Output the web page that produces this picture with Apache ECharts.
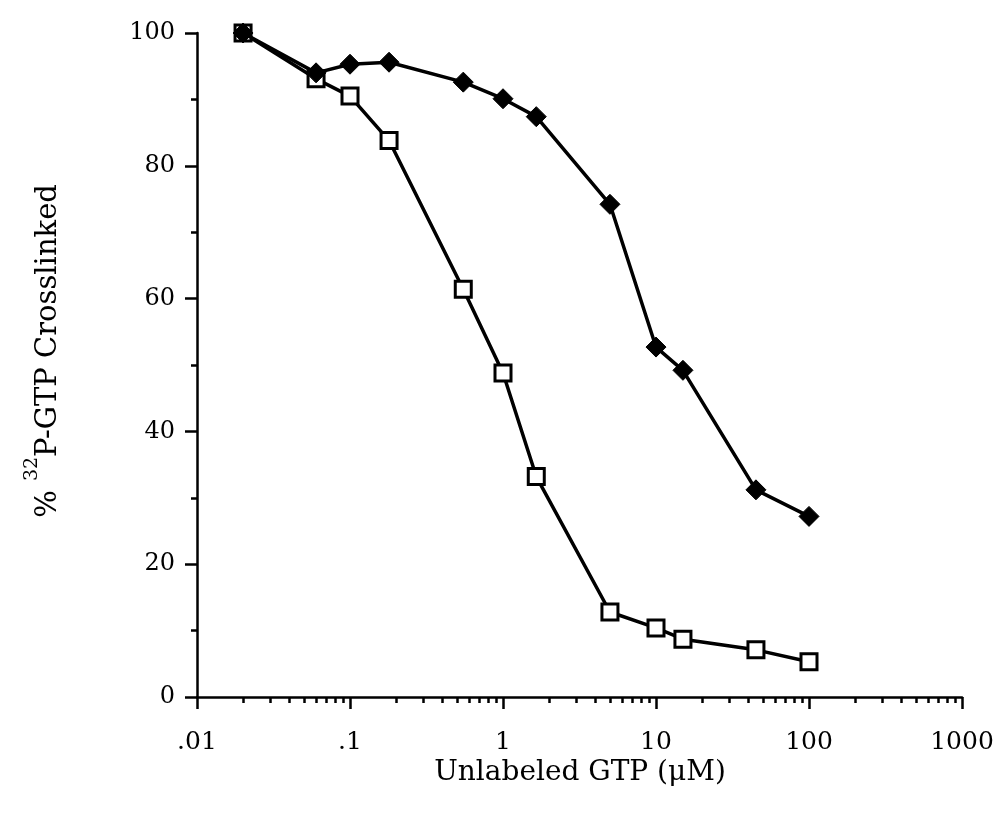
<!DOCTYPE html>
<html>
<head>
<meta charset="utf-8">
<script src="https://cdn.jsdelivr.net/npm/echarts@6/dist/echarts.min.js"></script>
<style>html,body{margin:0;padding:0;background:#fff;}#c{width:1002px;height:823px;}</style>
</head>
<body>
<div id="c"></div>
<script>
// Data
const conc = [0.02, 0.06, 0.1, 0.18, 0.55, 1, 1.65, 5, 10, 15, 45, 100];
const filledDiamond = [100, 94.0, 95.3, 95.6, 92.6, 90.1, 87.4, 74.2, 52.7, 49.2, 31.2, 27.2];
const openSquare = [100, 93.1, 90.5, 83.8, 61.4, 48.8, 33.2, 12.8, 10.4, 8.7, 7.1, 5.3];
const xMajorTicks = [0.01, 0.1, 1, 10, 100, 1000];
const xTickLabels = ['.01', '.1', '1', '10', '100', '1000'];
const xMinorTicks = [];
[0.01, 0.1, 1, 10, 100].forEach(function (d) { for (let k = 2; k <= 9; k++) xMinorTicks.push(+(d * k).toPrecision(3)); });

const FONT = '"DejaVu Serif", serif';
const chart = echarts.init(document.getElementById('c'));

function pairs(ys) { return conc.map(function (x, i) { return [x, ys[i]]; }); }

chart.setOption({
  animation: false,
  backgroundColor: '#fff',
  grid: { left: 197, right: 40, top: 33, bottom: 126, containLabel: false },
  xAxis: [{
    type: 'log', logBase: 10, min: 0.01, max: 1000, position: 'bottom',
    axisLine: { show: true, onZero: false, lineStyle: { color: '#000', width: 2.5 } },
    axisTick: { show: true, inside: false, length: 12, lineStyle: { color: '#000', width: 2.5 }, customValues: xMajorTicks },
    axisLabel: {
      show: true, margin: 33, color: '#000', fontFamily: FONT, fontSize: 25, customValues: xMajorTicks,
      formatter: function (v) {
        let best = 0, bd = Infinity;
        xMajorTicks.forEach(function (t, i) { const d = Math.abs(Math.log10(t) - Math.log10(v)); if (d < bd) { bd = d; best = i; } });
        return xTickLabels[best];
      }
    },
    splitLine: { show: false }, minorTick: { show: false }
  }, {
    type: 'log', logBase: 10, min: 0.01, max: 1000, position: 'bottom', offset: 0,
    axisLine: { show: false },
    axisTick: { show: true, inside: false, length: 6, lineStyle: { color: '#000', width: 2.5 }, customValues: xMinorTicks },
    axisLabel: { show: false },
    splitLine: { show: false }
  }],
  yAxis: {
    type: 'value', min: 0, max: 100, interval: 20,
    axisLine: { show: true, onZero: false, lineStyle: { color: '#000', width: 2.5 } },
    axisTick: { show: true, inside: false, length: 12, lineStyle: { color: '#000', width: 2.5 } },
    minorTick: { show: true, splitNumber: 2, length: 6, lineStyle: { color: '#000', width: 2.5 } },
    axisLabel: { margin: 22, color: '#000', fontFamily: FONT, fontSize: 24 },
    splitLine: { show: false }
  },
  series: [{
    name: 'open', type: 'line', xAxisIndex: 0, data: pairs(openSquare),
    symbol: 'rect', symbolSize: 16, showAllSymbol: true,
    lineStyle: { color: '#000', width: 3.5 },
    itemStyle: { color: '#fff', borderColor: '#000', borderWidth: 3 },
    z: 2
  }, {
    name: 'filled', type: 'line', xAxisIndex: 0, data: pairs(filledDiamond),
    symbol: 'diamond', symbolSize: 20, showAllSymbol: true,
    lineStyle: { color: '#000', width: 3.5 },
    itemStyle: { color: '#000', borderColor: '#000', borderWidth: 1 },
    z: 3
  }],
  graphic: [{
    type: 'text', x: 580, y: 773,
    style: { text: 'Unlabeled GTP (\u03bcM)', fill: '#000', font: '28px ' + FONT, align: 'center', verticalAlign: 'middle' }
  }, {
    type: 'text', x: 43, y: 351, rotation: Math.PI / 2,
    style: {
      text: '{m|% }{s|32}{m|P-GTP Crosslinked}',
      align: 'center', verticalAlign: 'middle',
      rich: {
        m: { fontFamily: FONT, fontSize: 29, fill: '#000', lineHeight: 40, verticalAlign: 'bottom' },
        s: { fontFamily: FONT, fontSize: 19, fill: '#000', lineHeight: 40, verticalAlign: 'top' }
      }
    }
  }]
});
</script>
</body>
</html>
